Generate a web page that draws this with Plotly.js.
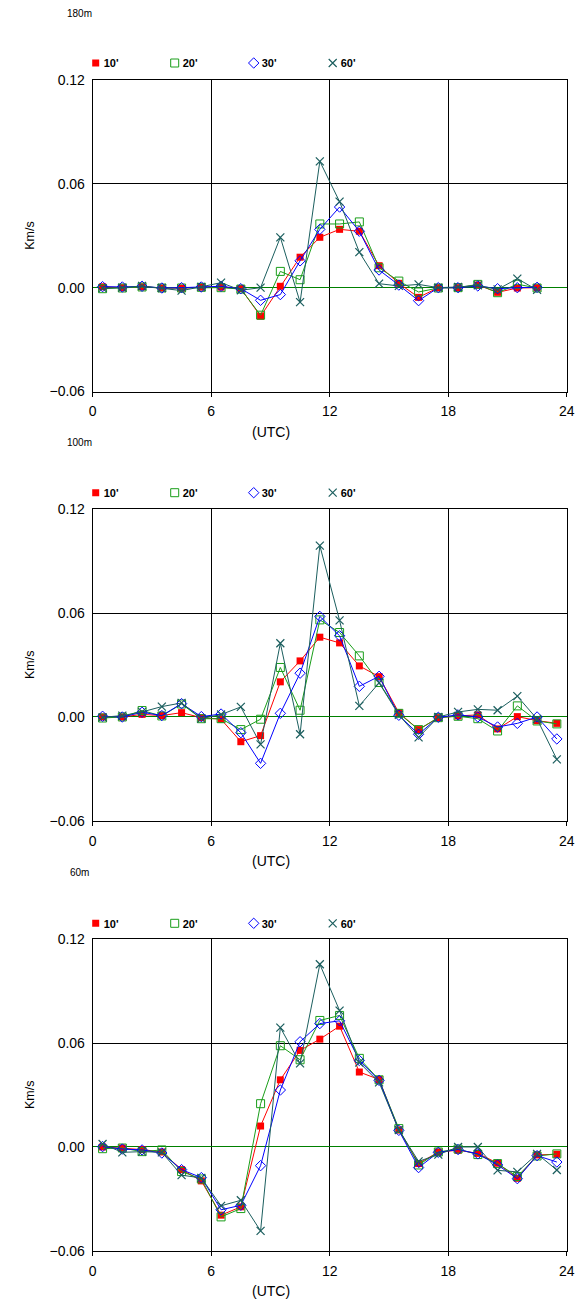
<!DOCTYPE html>
<html><head><meta charset="utf-8">
<script src="https://cdn.plot.ly/plotly-3.0.1.min.js"></script>
<style>
body{margin:0;background:#fff;}
#wrap{position:relative;width:581px;height:1300px;}
.panel{position:absolute;left:0;top:0;width:581px;height:1300px;}
</style>
</head><body><div id="wrap"><div id="p0" class="panel"></div><div id="p1" class="panel"></div><div id="p2" class="panel"></div></div>
<script>
// ---- data ----
const panelTitles = ["180m", "100m", "60m"];
const seriesNames = ["10'", "20'", "30'", "60'"];
const hours180 = [0.5,1.5,2.5,3.5,4.5,5.5,6.5,7.5,8.5,9.5,10.5,11.5,12.5,13.5,14.5,15.5,16.5,17.5,18.5,19.5,20.5,21.5,22.5];
const hours = [0.5,1.5,2.5,3.5,4.5,5.5,6.5,7.5,8.5,9.5,10.5,11.5,12.5,13.5,14.5,15.5,16.5,17.5,18.5,19.5,20.5,21.5,22.5,23.5];
const xTicks = [0, 6, 12, 18, 24];
const yTicks = [-0.06, 0, 0.06, 0.12];

// 180m
const m180_10 = [0.0005,0.0000,0.0005,-0.0002,-0.0003,0.0003,0.0003,-0.0005,-0.0165,0.0008,0.0176,0.0291,0.0337,0.0326,0.0127,0.0025,-0.0056,0.0000,0.0000,0.0015,-0.0027,-0.0002,0.0000];
const m180_20 = [-0.0006,-0.0002,0.0004,-0.0002,-0.0002,0.0002,0.0000,-0.0008,-0.0159,0.0094,0.0046,0.0368,0.0368,0.0380,0.0115,0.0038,-0.0025,-0.0002,0.0000,0.0019,-0.0029,0.0020,-0.0002];
const m180_30 = [0.0006,0.0004,0.0008,-0.0002,0.0000,0.0004,0.0008,-0.0006,-0.0073,-0.0040,0.0155,0.0337,0.0466,0.0326,0.0102,0.0015,-0.0075,0.0000,0.0000,0.0010,-0.0006,0.0000,0.0002];
const m180_60 = [-0.0003,0.0000,0.0010,-0.0002,-0.0017,0.0005,0.0029,-0.0015,0.0000,0.0291,-0.0084,0.0730,0.0497,0.0205,0.0023,0.0010,0.0019,0.0000,0.0004,0.0013,-0.0010,0.0052,-0.0013];
// 100m
const m100_10 = [0.0000,0.0000,0.0015,0.0008,0.0025,-0.0004,-0.0013,-0.0143,-0.0108,0.0203,0.0324,0.0461,0.0428,0.0295,0.0233,0.0025,-0.0073,-0.0004,0.0006,0.0012,-0.0069,0.0002,-0.0021,-0.0037];
const m100_20 = [-0.0006,0.0000,0.0037,0.0006,0.0075,-0.0010,-0.0010,-0.0073,-0.0013,0.0286,0.0039,0.0561,0.0488,0.0353,0.0199,0.0021,-0.0073,-0.0004,0.0004,-0.0010,-0.0081,0.0064,-0.0023,-0.0040];
const m100_30 = [0.0004,0.0000,0.0027,0.0008,0.0077,0.0002,0.0017,-0.0091,-0.0268,0.0021,0.0253,0.0581,0.0469,0.0177,0.0235,0.0010,-0.0100,-0.0002,0.0012,0.0000,-0.0058,-0.0037,0.0000,-0.0127];
const m100_60 = [-0.0002,0.0008,0.0029,0.0060,0.0081,-0.0010,0.0014,0.0058,-0.0158,0.0426,-0.0100,0.0990,0.0558,0.0064,0.0197,0.0012,-0.0118,0.0000,0.0029,0.0044,0.0039,0.0120,-0.0012,-0.0245];
// 60m
const m60_10 = [0.0000,-0.0006,-0.0015,-0.0029,-0.0131,-0.0196,-0.0394,-0.0346,0.0121,0.0388,0.0558,0.0623,0.0698,0.0433,0.0390,0.0098,-0.0096,-0.0029,-0.0019,-0.0037,-0.0094,-0.0181,-0.0046,-0.0042];
const m60_20 = [-0.0010,-0.0006,-0.0027,-0.0017,-0.0142,-0.0185,-0.0404,-0.0356,0.0250,0.0585,0.0504,0.0731,0.0760,0.0512,0.0388,0.0106,-0.0104,-0.0029,-0.0012,-0.0044,-0.0096,-0.0171,-0.0052,-0.0040];
const m60_30 = [0.0002,-0.0012,-0.0017,-0.0035,-0.0131,-0.0177,-0.0363,-0.0337,-0.0108,0.0329,0.0608,0.0713,0.0729,0.0500,0.0385,0.0096,-0.0119,-0.0031,-0.0015,-0.0040,-0.0104,-0.0183,-0.0050,-0.0087];
const m60_60 = [0.0017,-0.0031,-0.0027,-0.0031,-0.0163,-0.0179,-0.0340,-0.0308,-0.0485,0.0690,0.0483,0.1056,0.0788,0.0488,0.0373,0.0098,-0.0083,-0.0044,0.0000,0.0000,-0.0135,-0.0144,-0.0040,-0.0133];

const panels = [
  {x: hours180, series: [m180_10, m180_20, m180_30, m180_60]},
  {x: hours,    series: [m100_10, m100_20, m100_30, m100_60]},
  {x: hours,    series: [m60_10,  m60_20,  m60_30,  m60_60]}
];

// ---- styling ----
const W = 581, H = 1300;
const fx = p => p / W;
const fy = p => 1 - p / H;
const FONT = 'Liberation Sans, Arial, sans-serif';
const styles = [
  {color:'#ff0000', symbol:'square', size:7, lw:0},
  {color:'#1a9e1a', symbol:'square-open', size:8, lw:1},
  {color:'#0000ff', symbol:'diamond-open', size:8, lw:1},
  {color:'#1b5e5e', symbol:'x-thin-open', size:8, lw:1.2}
];
const plotLeft = 92.7, plotRight = 566.7;
const panelTops = [80, 509.3, 939.3];
const plotH = 311.5;
const legendY = [63, 492.7, 923.3];
const titleY = [14, 442, 872];

// tighten the gap between legend symbol and its label, as in the original
function tightenLegends(gd) {
  gd.querySelectorAll('.legendtext').forEach(t => {
    t.setAttribute('x', 28);
    t.querySelectorAll('tspan[x]').forEach(s => s.setAttribute('x', 28));
  });
}

panels.forEach((pn, i) => {
  const traces = [];
  pn.series.forEach((vals, k) => {
    const st = styles[k];
    traces.push({
      type: 'scatter', mode: 'lines+markers', x: pn.x, y: vals,
      showlegend: false, name: seriesNames[k],
      line: {color: st.color, width: 1},
      marker: {symbol: st.symbol, size: st.size, color: st.color, line: {color: st.color, width: st.lw}},
      cliponaxis: false
    });
  });
  seriesNames.forEach((nm, k) => {
    const st = styles[k];
    traces.push({
      type: 'scatter', mode: 'markers', x: [null], y: [null],
      showlegend: true, name: nm,
      marker: {symbol: st.symbol, size: st.size, color: st.color, line: {color: st.color, width: st.lw}}
    });
  });
  const top = panelTops[i], bot = top + plotH;
  const layout = {
    width: W, height: H,
    margin: {l:0, r:0, t:0, b:0},
    paper_bgcolor: 'rgba(0,0,0,0)', plot_bgcolor: 'rgba(0,0,0,0)',
    font: {family: FONT, color: '#000'},
    showlegend: true,
    xaxis: {
      domain: [fx(plotLeft), fx(plotRight)],
      range: [0, 24], tickvals: xTicks, ticktext: xTicks.map(String),
      ticks: 'outside', ticklen: 4, tickcolor: '#000', tickwidth: 1,
      showgrid: true, gridcolor: '#000', gridwidth: 1,
      showline: true, linecolor: '#000', linewidth: 1, mirror: true,
      zeroline: false, tickfont: {size: 14, family: FONT, color: '#000'},
      ticklabelstandoff: 3, fixedrange: true
    },
    yaxis: {
      domain: [fy(bot), fy(top)],
      range: [-0.06, 0.12], tickvals: yTicks, tickformat: '.2f',
      ticks: '', showgrid: true, gridcolor: '#000', gridwidth: 1,
      showline: true, linecolor: '#000', linewidth: 1, mirror: true,
      zeroline: true, zerolinecolor: '#008000', zerolinewidth: 1,
      tickfont: {size: 14, family: FONT, color: '#000'}, ticklabelstandoff: 4, fixedrange: true
    },
    legend: {
      orientation: 'h', x: fx(75.7), y: fy(legendY[i]), xanchor: 'left', yanchor: 'middle',
      entrywidth: 34, entrywidthmode: 'pixels',
      font: {family: FONT, size: 11, color: '#000', weight: 'bold'},
      bgcolor: 'rgba(0,0,0,0)', borderwidth: 0, itemclick: false, itemdoubleclick: false
    },
    annotations: [
      {text: panelTitles[i], xref: 'paper', yref: 'paper', x: fx(80), y: fy(titleY[i]),
       xanchor: 'center', yanchor: 'middle', showarrow: false,
       font: {family: FONT, size: 10, color: '#000'}},
      {text: '(UTC)', xref: 'paper', yref: 'paper', x: fx(270.7), y: fy(bot + 40.5),
       xanchor: 'center', yanchor: 'middle', showarrow: false,
       font: {family: FONT, size: 14, color: '#000'}},
      {text: 'Km/s', xref: 'paper', yref: 'paper', x: fx(30), y: fy(top + plotH / 2),
       xanchor: 'center', yanchor: 'middle', showarrow: false, textangle: -90,
       font: {family: FONT, size: 12.5, color: '#000'}}
    ]
  };
  Plotly.newPlot('p' + i, traces, layout, {staticPlot: true, displayModeBar: false}).then(gd => {
    tightenLegends(gd);
    gd.on('plotly_afterplot', () => tightenLegends(gd));
  });
});
</script>
</body></html>
